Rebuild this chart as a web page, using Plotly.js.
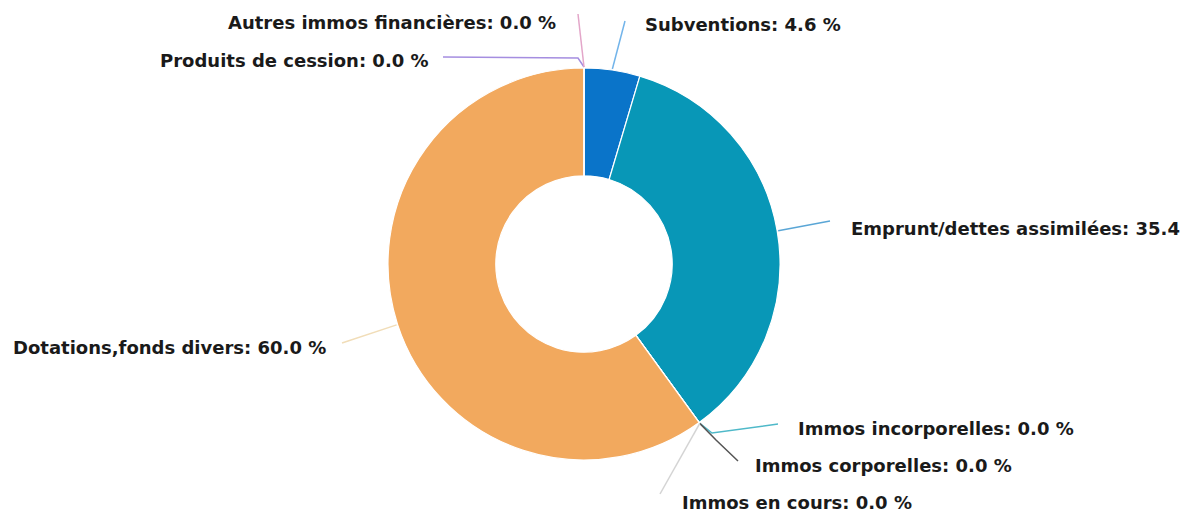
<!DOCTYPE html>
<html>
<head>
<meta charset="utf-8">
<script src="https://cdn.plot.ly/plotly-3.0.1.min.js"></script>
<style>html,body{margin:0;padding:0;background:#fff;}#chart{width:1185px;height:512px;}</style>
</head>
<body>
<div id="chart"></div>
<script>
// ---- data ----
const categories = ['Subventions', 'Emprunt/dettes assimilées', 'Immos incorporelles', 'Immos corporelles', 'Immos en cours', 'Dotations,fonds divers', 'Produits de cession', 'Autres immos financières'];
const values = [4.6, 35.4, 0.0, 0.0, 0.0, 60.0, 0.0, 0.0];
const sliceColors = ['#0a74c9', '#0897b7', '#4fb9c9', '#4a4a4a', '#cfcfcf', '#f2a95e', '#a58ee0', '#e3a6c9'];
const connectorColors = ['#72b4ea', '#5aa6d6', '#4fb9c9', '#555555', '#d4d4d4', '#f1ddb8', '#a58ee0', '#e3a6c9'];

// ---- layout (pixels) ----
const W = 1185, H = 512;
const CX = 584, CY = 264, R = 196;
const labelPos = [
  {x: 643, y: 24,  a: 'left',  pts: [[625, 21]]},
  {x: 849, y: 228, a: 'left',  pts: [[830, 221]]},
  {x: 796, y: 428, a: 'left',  pts: [[778, 424], [712, 433]]},
  {x: 753, y: 465, a: 'left',  pts: [[738, 461], [716, 440]]},
  {x: 680, y: 502, a: 'left',  pts: [[660, 494]]},
  {x: 328, y: 347, a: 'right', pts: [[342, 343]]},
  {x: 431, y: 60,  a: 'right', pts: [[443, 57], [578, 58]]},
  {x: 558, y: 22,  a: 'right', pts: [[578, 14]]}
];

const total = values.reduce((s, v) => s + v, 0);
const px = x => x / W, py = y => 1 - y / H;

const annotations = [];
const shapes = [];
let cum = 0;
values.forEach((v, i) => {
  const f = (cum + v / 2) / total;
  cum += v;
  const ang = f * 2 * Math.PI;
  const ex = CX + (R + 1) * Math.sin(ang);
  const ey = CY - (R + 1) * Math.cos(ang);
  const lp = labelPos[i];
  const suffix = i === 1 ? '' : ' %';
  annotations.push({
    xref: 'paper', yref: 'paper', x: px(lp.x), y: py(lp.y),
    xanchor: lp.a, yanchor: 'middle', showarrow: false,
    text: categories[i] + ': ' + v.toFixed(1) + suffix,
    font: {family: 'DejaVu Sans', size: 18, color: '#1a1a1a', weight: 'bold'}
  });
  const pts = lp.pts.concat([[ex, ey]]);
  let d = 'M ' + px(pts[0][0]) + ' ' + py(pts[0][1]);
  for (let k = 1; k < pts.length; k++) d += ' L ' + px(pts[k][0]) + ' ' + py(pts[k][1]);
  shapes.push({type: 'path', xref: 'paper', yref: 'paper', path: d, line: {color: connectorColors[i], width: 1.5}});
});

const trace = {
  type: 'pie',
  labels: categories,
  values: values,
  hole: 0.45,
  sort: false,
  direction: 'clockwise',
  rotation: 0,
  textinfo: 'none',
  hoverinfo: 'label+percent',
  marker: {colors: sliceColors, line: {color: '#ffffff', width: 1.2}},
  domain: {x: [px(CX - R), px(CX + R)], y: [py(CY + R), py(CY - R)]},
  showlegend: false
};

const layout = {
  width: W, height: H,
  margin: {l: 0, r: 0, t: 0, b: 0},
  paper_bgcolor: '#ffffff',
  showlegend: false,
  annotations: annotations,
  shapes: shapes
};

Plotly.newPlot('chart', [trace], layout, {displayModeBar: false, staticPlot: true});
</script>
</body>
</html>
